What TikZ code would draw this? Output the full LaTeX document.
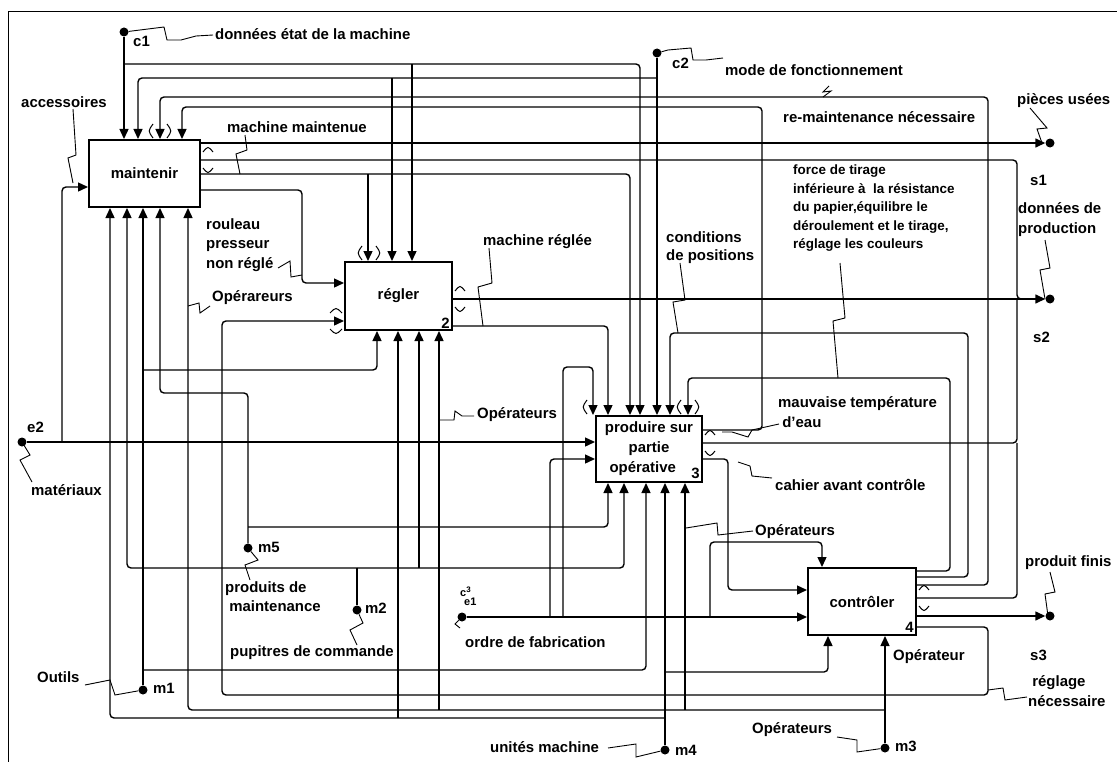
\documentclass[tikz,border=0pt]{standalone}
\usepackage{fontspec}
\setmainfont{Liberation Sans}
\usetikzlibrary{arrows.meta,positioning}

\begin{document}
\begin{tikzpicture}[x=1bp,y=-1bp,
    font=\fontsize{15}{20}\selectfont\bfseries,
    wire/.style={line width=1.4bp,rounded corners=4bp},
    arr/.style={wire,-{Triangle[length=10bp,width=9bp]}},
    squig/.style={line width=0.9bp},
    tun/.style={line width=1bp},
    box/.style={draw,line width=2bp,inner sep=0pt,align=center},
    dot/.style={circle,fill,inner sep=0pt,minimum size=9bp},
    lbl/.style={inner sep=0pt,anchor=west},
    lbls/.style={inner sep=0pt,anchor=north west,align=left}]
\useasboundingbox (0,0) rectangle (1117,762);
% cadre
\draw[line width=1bp] (8,762) -- (8,12) -- (1117,12);

% activites
\node[box,minimum width=111bp,minimum height=67bp] (maint) at (144.5,173.5) {maintenir};
\node[box,minimum width=107bp,minimum height=68bp] (regl) at (398.5,296) {régler};
\node[box,minimum width=106bp,minimum height=66bp] (prod) at (649,449) {produire sur\\partie\\opérative\phantom{ 3}};
\node[box,minimum width=108bp,minimum height=67bp] (ctrl) at (862,601.5) {contrôler};
\node[inner sep=0pt,anchor=south east] (n2) at ([shift={(-3,-2)}]regl.south east) {2};
\node[inner sep=0pt,anchor=south east] (n3) at ([shift={(-3,-4)}]prod.south east) {3};
\node[inner sep=0pt,anchor=south east] (n4) at ([shift={(-3,-3)}]ctrl.south east) {4};

% extremites
\node[dot] (c1) at (124,32) {};
\node[dot] (c2) at (657,53) {};
\node[dot] (c3) at (462,617) {};
\node[dot] (e2) at (22,442) {};
\node[dot] (m1) at (143,690) {};
\node[dot] (m2) at (357,610) {};
\node[dot] (m3) at (885,748) {};
\node[dot] (m4) at (665,750) {};
\node[dot] (m5) at (248,548) {};
\node[dot] (s1) at (1050,143) {};
\node[dot] (s2) at (1050,299) {};
\node[dot] (s3) at (1050,616) {};

% controles
\draw[arr] (c1) -- (124,0 |- maint.north);
\draw[arr] (124,64) -- (640,64) -- (640,0 |- prod.north);
\draw[arr] (412,64) -- (412,0 |- regl.north);
\draw[arr] (c2) -- (657,0 |- prod.north);
\draw[arr] (657,78) -- (138,78) -- (138,0 |- maint.north);
\draw[arr] (392,78) -- (392,0 |- regl.north);
\draw[arr] (c3) -- (ctrl.west |- 0,617);
\draw[arr] (550,617) -- (550,459) -- (prod.west |- 0,459);
\draw[arr] (563,617) -- (563,367) -- (593,367) -- (593,0 |- prod.north);
\draw[arr] (710,617) -- (710,542) -- (822,542) -- (822,0 |- ctrl.north);

% entrees
\draw[arr] (e2) -- (prod.west |- 0,442);
\draw[arr] (62,442) -- (62,187) -- (maint.west |- 0,187);

% sorties maintenir
\draw[arr] (maint.east |- 0,143) -- (s1);
\draw[wire] (maint.east |- 0,160) -- (1017,160) -- (1017,299) -- (1030,299);
\draw[arr] (maint.east |- 0,174) -- (630,174) -- (630,0 |- prod.north);
\draw[arr] (368,174) -- (368,0 |- regl.north);
\draw[arr] (maint.east |- 0,190) -- (302,190) -- (302,283) -- (regl.west |- 0,283);

% sorties regler
\draw[arr] (regl.east |- 0,299) -- (s2);
\draw[arr] (regl.east |- 0,326) -- (608,326) -- (608,0 |- prod.north);

% sorties produire
\draw[arr] (prod.east |- 0,430) -- (762,430) -- (762,107) -- (182,107) -- (182,0 |- maint.north);
\draw[wire] (prod.east |- 0,443) -- (1017,443) -- (1017,299);
\draw[arr] (prod.east |- 0,459) -- (728,459) -- (728,590) -- (ctrl.west |- 0,590);

% sorties controler
\draw[arr] (ctrl.east |- 0,571) -- (950,571) -- (950,378) -- (688,378) -- (688,0 |- prod.north);
\draw[arr] (ctrl.east |- 0,577) -- (968,577) -- (968,333) -- (670,333) -- (670,0 |- prod.north);
\draw[arr] (ctrl.east |- 0,585) -- (988,585) -- (988,97) -- (160,97) -- (160,0 |- maint.north);
\draw[wire] (ctrl.east |- 0,598) -- (1017,598) -- (1017,443);
\draw[arr] (ctrl.east |- 0,616) -- (s3);
\draw[arr] (ctrl.east |- 0,627) -- (988,627) -- (988,695) -- (222,695) -- (222,321) -- (regl.west |- 0,321);

% mecanismes
\draw[arr] (m1) -- (143,0 |- maint.south);
\draw[arr] (143,370) -- (377,370) -- (377,0 |- regl.south);
\draw[arr] (143,670) -- (646,670) -- (646,0 |- prod.south);
\draw[wire] (m2) -- (357,568);
\draw[arr] (357,568) -- (127,568) -- (127,0 |- maint.south);
\draw[arr] (357,568) -- (624,568) -- (624,0 |- prod.south);
\draw[arr] (419,568) -- (419,0 |- regl.south);
\draw[arr] (m3) -- (885,0 |- ctrl.south);
\draw[arr] (885,710) -- (188,710) -- (188,0 |- maint.south);
\draw[arr] (439,710) -- (439,0 |- regl.south);
\draw[arr] (685,710) -- (685,0 |- prod.south);
\draw[arr] (m4) -- (665,0 |- prod.south);
\draw[arr] (665,718) -- (110,718) -- (110,0 |- maint.south);
\draw[arr] (398,718) -- (398,0 |- regl.south);
\draw[arr] (665,672) -- (828,672) -- (828,0 |- ctrl.south);
\draw[arr] (m5) -- (248,393) -- (160,393) -- (160,0 |- maint.south);
\draw[arr] (248,527) -- (608,527) -- (608,0 |- prod.south);

% tunnels
\draw[tun] (153,124) .. controls (148,131) .. (153,138);
\draw[tun] (167,124) .. controls (172,131) .. (167,138);
\draw[tun] (362,246) .. controls (357,253) .. (362,260);
\draw[tun] (376,246) .. controls (381,253) .. (376,260);
\draw[tun] (681,400) .. controls (676,407) .. (681,414);
\draw[tun] (695,400) .. controls (700,407) .. (695,414);
\draw[tun] (587,400) .. controls (582,407) .. (587,414);
\draw[tun] (330,313) .. controls (336,307) .. (342,313);
\draw[tun] (330,329) .. controls (336,335) .. (342,329);
\draw[tun] (203,152) .. controls (208,146) .. (213,152);
\draw[tun] (203,168) .. controls (208,174) .. (213,168);
\draw[tun] (455,291) .. controls (460,285) .. (465,291);
\draw[tun] (455,307) .. controls (460,313) .. (465,307);
\draw[tun] (705,435) .. controls (710,429) .. (715,435);
\draw[tun] (705,451) .. controls (710,457) .. (715,451);
\draw[tun] (919,590) .. controls (924,584) .. (929,590);
\draw[tun] (919,606) .. controls (924,612) .. (929,606);

% libelles
\node[lbl] (t-c1) at (133,41) {c1};
\node[lbl] (t-c1a) at (215,34) {données état de la machine};
\node[lbl] (t-c2) at (672,63) {c2};
\node[lbl] (t-c2a) at (725,70) {mode de fonctionnement};
\node[lbl] (t-acc) at (21,102) {accessoires};
\node[lbl] (t-mm) at (227,127) {machine maintenue};
\node[lbl] (t-rm) at (783,117) {re-maintenance nécessaire};
\node[lbl] (t-pu) at (1017,101) {pièces usées};
\node[lbl] (t-s1) at (1030,180) {s1};
\node[lbls,font=\fontsize{13.5}{18.5}\selectfont\bfseries] (t-ft) at (793,165) {force de tirage\\inférieure à\ \ la résistance\\du papier,équilibre le\\déroulement et le tirage,\\réglage les couleurs};
\node[lbls] (t-dp) at (1018,202) {données de\\production};
\node[lbls,font=\fontsize{15}{19}\selectfont\bfseries] (t-cp) at (666,231) {conditions\\de positions};
\node[lbl] (t-mr) at (483,242) {machine réglée};
\node[lbls] (t-rp) at (206,218) {rouleau\\presseur\\non réglé};
\node[lbl] (t-op1) at (212,298) {Opérareurs};
\node[lbl] (t-s2) at (1033,337) {s2};
\node[lbl] (t-op2) at (477,415) {Opérateurs};
\node[lbl] (t-e2) at (27,427) {e2};
\node[lbl] (t-mat) at (31,490) {matériaux};
\node[lbls] (t-mt) at (778,396) {mauvaise température\\\ d'eau};
\node[lbl] (t-ca) at (775,485) {cahier avant contrôle};
\node[lbl] (t-op3) at (755,532) {Opérateurs};
\node[lbl] (t-pf) at (1025,563) {produit finis};
\node[lbl] (t-s3) at (1030,655) {s3};
\node[lbls] (t-rn) at (1028,675) {\ réglage\\nécessaire};
\node[lbl] (t-op4) at (893,657) {Opérateur};
\node[lbl] (t-op5) at (752,730) {Opérateurs};
\node[lbl] (t-m3) at (895,746) {m3};
\node[lbl] (t-um) at (490,747) {unités machine};
\node[lbl] (t-m4) at (675,750) {m4};
\node[lbl] (t-m5) at (258,547) {m5};
\node[lbls] (t-pm) at (225,581) {produits de\\\ maintenance};
\node[lbl] (t-m2) at (365,608) {m2};
\node[lbl] (t-pc) at (230,653) {pupitres de commande};
\node[lbl] (t-out) at (37,677) {Outils};
\node[lbl] (t-m1) at (153,688) {m1};
\node[lbl,font=\fontsize{11}{11}\selectfont\bfseries] (t-c3) at (460,592) {c\raisebox{4bp}{\fontsize{8}{8}\selectfont 3}};
\node[lbl,font=\fontsize{11}{11}\selectfont\bfseries] (t-e1) at (464,602) {e1};
\node[lbl] (t-of) at (465,642) {ordre de fabrication};

% fleches de libelles
\draw[squig] (c1) -- (164,27) -- (167,40) -- (181,40) -- (196,36) -- (213,35);
\draw[squig] (c2) -- (668,50) -- (691,48) -- (693,60) -- (706,60) -- (723,58);
\draw[squig] (73,109) -- (76,155) -- (68,158) -- (73,183);
\draw[squig] (245,135) -- (247,150) -- (236,154) -- (240,174);
\draw[squig] (823,97) -- (831,91) -- (823,92) -- (829,86);
\draw[squig] (1030,108) -- (1047,128) -- (1037,129) -- (1042,143);
\draw[squig] (1045,240) -- (1050,268) -- (1040,270) -- (1045,299);
\draw[squig] (840,263) -- (845,318) -- (833,321) -- (838,378);
\draw[squig] (680,263) -- (685,300) -- (673,302) -- (678,333);
\draw[squig] (489,248) -- (492,283) -- (478,287) -- (483,326);
\draw[squig] (278,268) -- (290,261) -- (291,277) -- (302,275);
\draw[squig] (210,306) -- (200,313) -- (199,303) -- (188,306);
\draw[squig] (474,416) -- (462,416) -- (455,411) -- (454,420) -- (439,420);
\draw[squig] (22,442) -- (30,455) -- (20,460) -- (32,482);
\draw[squig] (779,424) -- (752,430) -- (748,437) -- (732,432) -- (722,432);
\draw[squig] (772,478) -- (752,476) -- (750,466) -- (738,462);
\draw[squig] (753,531) -- (718,535) -- (717,523) -- (686,528);
\draw[squig] (1050,572) -- (1055,592) -- (1045,594) -- (1048,616);
\draw[squig] (1027,697) -- (1005,700) -- (1003,688) -- (988,690);
\draw[squig] (837,737) -- (857,740) -- (857,752) -- (m3);
\draw[squig] (608,748) -- (636,744) -- (636,757) -- (m4);
\draw[squig] (m5) -- (258,560) -- (245,565) -- (250,580);
\draw[squig] (m2) -- (363,623) -- (350,630) -- (357,645);
\draw[squig] (85,685) -- (110,680) -- (115,695) -- (m1);
\draw[squig] (c3) -- (455,624) -- (460,628);
\end{tikzpicture}
\end{document}
